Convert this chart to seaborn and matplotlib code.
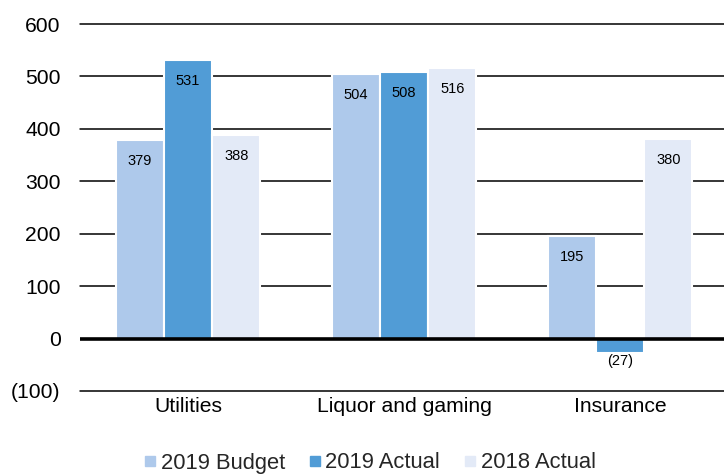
import matplotlib
matplotlib.use("Agg")
import matplotlib.pyplot as plt
import seaborn as sns
import pandas as pd
from matplotlib.lines import Line2D
from matplotlib.ticker import FuncFormatter

categories = ["Utilities", "Liquor and gaming", "Insurance"]
series_names = ["2019 Budget", "2019 Actual", "2018 Actual"]
budget_2019 = [379, 504, 195]
actual_2019 = [531, 508, -27]
actual_2018 = [388, 516, 380]
colors = ["#AEC9EB", "#519CD6", "#E3EAF7"]
y_ticks = [-100, 0, 100, 200, 300, 400, 500, 600]

df = pd.DataFrame({
    "category": categories * 3,
    "series": [s for s in series_names for _ in categories],
    "value": budget_2019 + actual_2019 + actual_2018,
})

sns.set_theme(style="white")
plt.rcParams["font.family"] = ["Liberation Sans", "DejaVu Sans"]

fig = plt.figure(figsize=(7.24, 4.75), dpi=100)
ax = fig.add_axes([80 / 724, 1 - 391 / 475, 648 / 724, (391 - 24) / 475])

sns.barplot(data=df, x="category", y="value", hue="series",
            palette=colors, saturation=1, width=0.67, edgecolor="white", linewidth=1.5,
            order=categories, hue_order=series_names, ax=ax, legend=False,
            zorder=2)

ax.set_xlim(-0.5, 2.5)
ax.set_ylim(-100, 600)
ax.set_yticks(y_ticks)
ax.yaxis.set_major_formatter(FuncFormatter(
    lambda v, _: f"({abs(int(v))})" if v < 0 else f"{int(v)}"))
for y in y_ticks:
    if y == 0:
        ax.axhline(0, color="black", lw=2.6, zorder=3)
    else:
        ax.axhline(y, color="black", lw=1.1, zorder=1, clip_on=False)

for s in ax.spines.values():
    s.set_visible(False)
ax.tick_params(axis="both", length=0, labelsize=15.2, colors="black")
ax.tick_params(axis="y", pad=14)
ax.tick_params(axis="x", pad=4)
ax.set_xlabel("")
ax.set_ylabel("")

# value labels: inside the top of positive bars, below negative bars
for cont in ax.containers:
    for bar in cont:
        h = bar.get_height()
        x = bar.get_x() + bar.get_width() / 2
        if h >= 0:
            ax.annotate(f"{h:.0f}", (x, h), xytext=(0, -15), textcoords="offset points",
                        ha="center", va="center", fontsize=10.5, color="black", zorder=4)
        else:
            ax.annotate(f"({abs(h):.0f})", (x, h), xytext=(0, -6), textcoords="offset points",
                        ha="center", va="center", fontsize=10.5, color="black", zorder=4)

handles = [Line2D([0], [0], marker="s", linestyle="none", markersize=7,
                  markerfacecolor=c, markeredgecolor=c) for c in colors]
fig.legend(handles, series_names, loc="center", bbox_to_anchor=(370 / 724, 1 - 463 / 475),
           ncol=3, frameon=False, fontsize=15.8, handlelength=0.5, handletextpad=0.25,
           columnspacing=1.1)

fig.savefig("out.png", dpi=100)
